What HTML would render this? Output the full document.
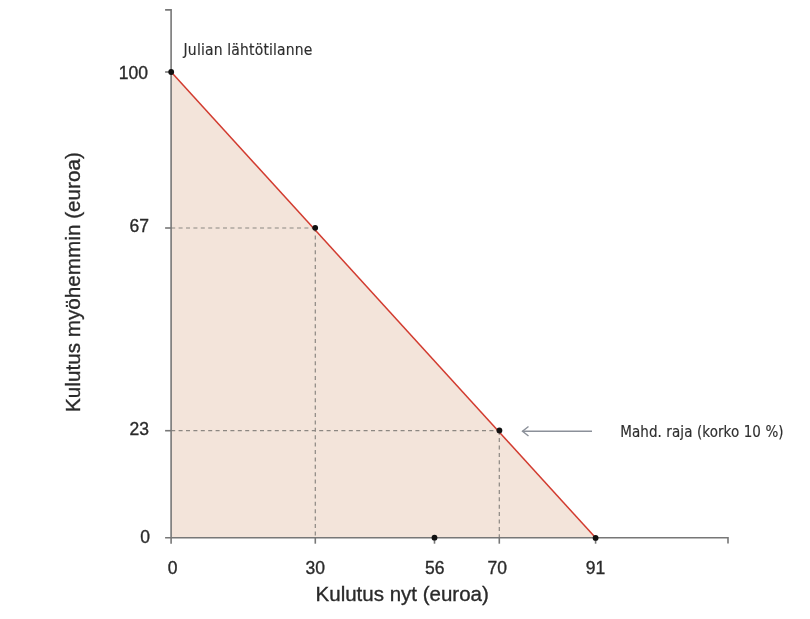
<!DOCTYPE html>
<html>
<head>
<meta charset="utf-8">
<style>
html,body{margin:0;padding:0;background:#fff;}
body{width:810px;height:619px;overflow:hidden;}
svg{display:block;will-change:transform;}
text{font-family:"Liberation Sans",sans-serif;fill:#2a2a2a;stroke:#2a2a2a;stroke-width:0.35px;}
text[font-family]{font-family:"DejaVu Sans Condensed","DejaVu Sans",sans-serif;stroke:#2e2e2e;stroke-width:0.15px;fill:#2e2e2e;}
</style>
</head>
<body>
<svg width="810" height="619" viewBox="0 0 810 619" xmlns="http://www.w3.org/2000/svg">
  <!-- shaded feasible region -->
  <polygon points="171.2,72 595.6,537.8 171.2,537.8" fill="#f3e4da"/>

  <!-- dashed guides -->
  <g stroke="#8c8782" stroke-width="1.2" stroke-dasharray="4 3.4" fill="none">
    <line x1="171.2" y1="228" x2="315.3" y2="228"/>
    <line x1="315.3" y1="228" x2="315.3" y2="537.8"/>
    <line x1="171.2" y1="430.7" x2="499.3" y2="430.7"/>
    <line x1="499.3" y1="430.7" x2="499.3" y2="537.8"/>
  </g>

  <!-- axes -->
  <g stroke="#777" stroke-width="1.6" fill="none">
    <polyline points="165.1,9.9 171.1,9.9 171.1,543.7"/>
    <polyline points="165.1,537.8 728,537.8 728,543.6"/>
    <line x1="165.1" y1="72" x2="171.1" y2="72"/>
    <line x1="165.1" y1="228" x2="171.1" y2="228"/>
    <line x1="165.1" y1="430.7" x2="171.1" y2="430.7"/>
    <line x1="315.3" y1="537.8" x2="315.3" y2="543.7"/>
    <line x1="434.5" y1="537.8" x2="434.5" y2="543.7"/>
    <line x1="499.3" y1="537.8" x2="499.3" y2="543.7"/>
    <line x1="595.6" y1="537.8" x2="595.6" y2="543.7"/>
  </g>

  <!-- budget line -->
  <line x1="171.2" y1="72" x2="595.6" y2="537.8" stroke="#d23b2f" stroke-width="1.5"/>

  <!-- points -->
  <g fill="#111">
    <circle cx="171.2" cy="72" r="2.9"/>
    <circle cx="315.2" cy="227.8" r="2.9"/>
    <circle cx="499.4" cy="430.5" r="2.9"/>
    <circle cx="434.5" cy="537.7" r="2.9"/>
    <circle cx="595.6" cy="537.9" r="2.9"/>
  </g>

  <!-- arrow -->
  <g stroke="#8b9099" stroke-width="1.4" fill="none">
    <line x1="522.5" y1="431.3" x2="592" y2="431.3"/>
    <polyline points="528.5,426.5 522.5,431.3 528.5,436"/>
  </g>

  <!-- y tick labels -->
  <g font-size="17.5" text-anchor="end">
    <text x="148" y="79">100</text>
    <text x="149" y="232.3">67</text>
    <text x="149" y="435">23</text>
    <text x="150" y="542.6">0</text>
  </g>
  <!-- x tick labels -->
  <g font-size="17.5" text-anchor="middle">
    <text x="172.5" y="573.7">0</text>
    <text x="315.3" y="573.7">30</text>
    <text x="434.8" y="573.7">56</text>
    <text x="497.3" y="573.7">70</text>
    <text x="595.6" y="573.7">91</text>
  </g>

  <!-- axis titles -->
  <text x="315.6" y="601" font-size="20.5">Kulutus nyt (euroa)</text>
  <text transform="translate(80.3,412) rotate(-90)" font-size="20.7">Kulutus myöhemmin (euroa)</text>

  <!-- annotations -->
  <text x="183.6" y="55.4" font-size="15.5" letter-spacing="0.17" font-family="DejaVu Sans">Julian lähtötilanne</text>
  <text x="620.2" y="437.2" font-size="15" letter-spacing="0.09" font-family="DejaVu Sans">Mahd. raja (korko 10 %)</text>
</svg>
</body>
</html>
